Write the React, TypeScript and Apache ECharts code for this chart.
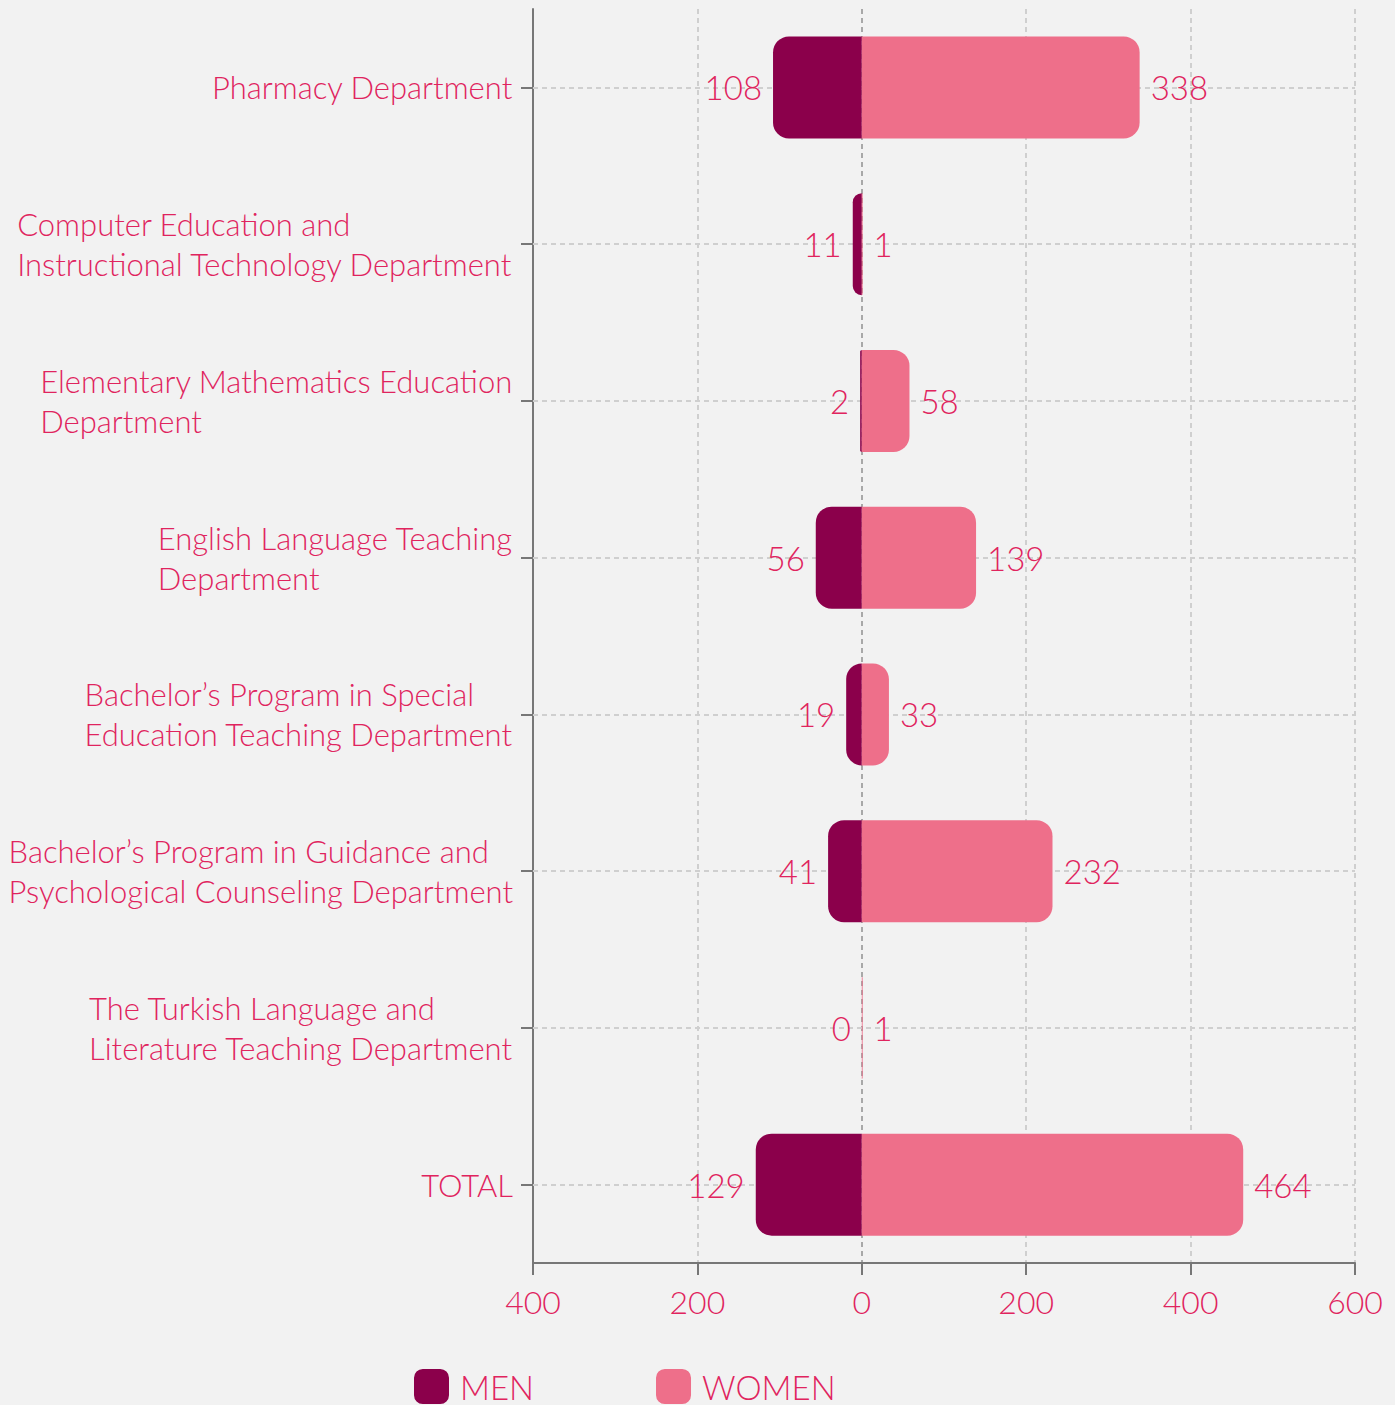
import React, { useEffect, useRef } from "react";
import * as echarts from "echarts";

const categories = [
  "Pharmacy Department",
  "Computer Education and\nInstructional Technology Department",
  "Elementary Mathematics Education\nDepartment",
  "English Language Teaching\nDepartment",
  "Bachelor’s Program in Special\nEducation Teaching Department",
  "Bachelor’s Program in Guidance and\nPsychological Counseling Department",
  "The Turkish Language and\nLiterature Teaching Department",
  "TOTAL",
];
const menValues = [108, 11, 2, 56, 19, 41, 0, 129];
const womenValues = [338, 1, 58, 139, 33, 232, 1, 464];
const xTicks = { min: -400, max: 600, interval: 200 };

const FONT = "Lato";
const TEXT = "#e0245e";
const MEN = "#8b004b";
const WOMEN = "#ee6f8a";

export default function App() {
  const ref = useRef<HTMLDivElement>(null);
  useEffect(() => {
    if (!ref.current) return;
    const chart = echarts.init(ref.current, null, { renderer: "svg" });
    chart.setOption({
      animation: false,
      backgroundColor: "#f2f2f2",
      textStyle: { fontFamily: FONT, fontWeight: 300 },
      grid: { left: 533, right: 40, top: 9, bottom: 142, containLabel: false, outerBoundsMode: "none" },
      legend: {
        left: 409,
        top: 1364,
        itemWidth: 35,
        itemHeight: 35,
        itemGap: 122,
        icon: "roundRect",
        textStyle: { color: TEXT, fontSize: 33, fontFamily: FONT, fontWeight: 300, padding: [0, 0, 0, 6] },
        data: ["MEN", "WOMEN"],
      },
      xAxis: {
        type: "value",
        min: xTicks.min,
        max: xTicks.max,
        interval: xTicks.interval,
        axisLine: { show: true, onZero: false, lineStyle: { color: "#777", width: 2 } },
        axisTick: { show: true, length: 12, lineStyle: { color: "#777", width: 2 } },
        axisLabel: {
          color: TEXT,
          fontSize: 32,
          fontFamily: FONT,
          fontWeight: 300,
          margin: 22,
          formatter: (v: number) => String(Math.abs(v)),
        },
        splitLine: {
          show: true,
          lineStyle: {
            type: [5, 4],
            width: 2,
            color: ["#cfcfcf", "#cfcfcf", "#a8a8a8", "#cfcfcf", "#cfcfcf", "#cfcfcf"],
          },
        },
      },
      yAxis: {
        type: "category",
        inverse: true,
        data: categories,
        axisLine: { show: true, onZero: false, lineStyle: { color: "#777", width: 2 } },
        axisTick: { show: true, alignWithLabel: true, length: 12, lineStyle: { color: "#777", width: 2 } },
        splitLine: { show: false },
        axisLabel: {
          margin: 20,
          color: TEXT,
          fontSize: 31,
          fontFamily: FONT,
          fontWeight: 300,
          lineHeight: 40,
          formatter: (v: string) =>
            v
              .split("\n")
              .map((l) => "{a|" + l + "}")
              .join("\n"),
          rich: {
            a: { align: "left", color: TEXT, fontSize: 31, fontFamily: FONT, fontWeight: 300, lineHeight: 40 },
          },
        },
      },
      series: [
        {
          name: "MEN",
          type: "bar",
          data: menValues.map((v) => -v),
          barWidth: 102,
          barGap: "-100%",
          itemStyle: { color: MEN, borderRadius: [16, 0, 0, 16] },
          label: {
            show: true,
            position: "left",
            distance: 11,
            color: TEXT,
            fontSize: 33,
            fontFamily: FONT,
            fontWeight: 300,
            formatter: (p: any) => String(Math.abs(p.value)),
          },
        },
        {
          name: "WOMEN",
          type: "bar",
          data: womenValues,
          barWidth: 102,
          barGap: "-100%",
          itemStyle: { color: WOMEN, borderRadius: [0, 16, 16, 0] },
          label: {
            show: true,
            position: "right",
            distance: 11,
            color: TEXT,
            fontSize: 33,
            fontFamily: FONT,
            fontWeight: 300,
          },
          markLine: {
            silent: true,
            z: 1,
            symbol: ["none", "none"],
            label: { show: false },
            lineStyle: { type: [5, 4], width: 2, color: "#cfcfcf" },
            emphasis: { disabled: true },
            data: categories.map((c) => ({ yAxis: c })),
          },
        },
      ],
    });
    return () => chart.dispose();
  }, []);
  return (
    <div
      ref={ref}
      style={{ position: "absolute", left: 0, top: 0, width: 1395, height: 1405 }}
    />
  );
}
